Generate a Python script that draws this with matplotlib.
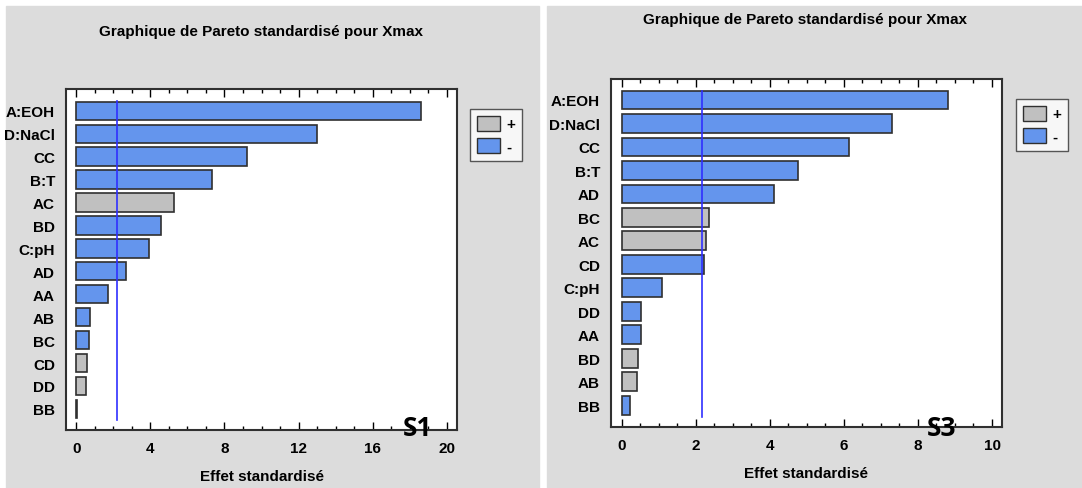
import matplotlib
matplotlib.use("Agg")
import matplotlib.pyplot as plt
from matplotlib.patches import Rectangle, Patch
from matplotlib.ticker import MultipleLocator

plt.rcParams['font.family'] = ['Liberation Sans Narrow', 'Liberation Sans', 'DejaVu Sans']
plt.rcParams['font.weight'] = 'bold'

# S1
labels1 = ['A:EOH', 'D:NaCl', 'CC', 'B:T', 'AC', 'BD', 'C:pH', 'AD', 'AA', 'AB', 'BC', 'CD', 'DD', 'BB']
vals1 = [18.6, 12.98, 9.23, 7.31, 5.28, 4.57, 3.94, 2.70, 1.69, 0.76, 0.69, 0.58, 0.52, 0.06]
signs1 = ['-', '-', '-', '-', '+', '-', '-', '-', '-', '-', '-', '+', '+', '-']

# S3
labels3 = ['A:EOH', 'D:NaCl', 'CC', 'B:T', 'AD', 'BC', 'AC', 'CD', 'C:pH', 'DD', 'AA', 'BD', 'AB', 'BB']
vals3 = [8.80, 7.30, 6.15, 4.77, 4.10, 2.37, 2.27, 2.22, 1.08, 0.52, 0.52, 0.44, 0.40, 0.21]
signs3 = ['-', '-', '-', '-', '-', '+', '+', '-', '-', '-', '-', '+', '+', '-']

t_crit = 2.18
title = 'Graphique de Pareto standardisé pour Xmax'
xlab = 'Effet standardisé'
col = {'+': '#c0c0c0', '-': '#6495ed'}

W, H = 1082, 489
fig = plt.figure(figsize=(W / 100, H / 100), dpi=100, facecolor='white')

def box(x0, y0, x1, y1):
    # pixel box (top-left origin) -> figure fraction
    return [x0 / W, 1 - y1 / H, (x1 - x0) / W, (y1 - y0) / H]

# gray panels
for x0, x1 in [(6, 539), (547, 1082)]:
    fig.patches.append(Rectangle((x0 / W, 0), (x1 - x0) / W, 1 - 7 / H,
                                 transform=fig.transFigure, color='#dcdcdc', zorder=-1))

def panel(rect, labels, vals, signs, xlim, major, minor, ylim, tit_xy, leg_xy, tag, tag_xy):
    ax = fig.add_axes(box(*rect), zorder=1)
    ax.set_facecolor('white')
    y = list(range(len(labels)))
    ax.barh(y, vals, height=0.8, color=[col[s] for s in signs],
            edgecolor='#303030', linewidth=1.2, zorder=2)
    ax.axvline(t_crit, color='#3030ff', linewidth=1.2, zorder=3,
               ymin=0.03, ymax=0.965)
    ax.set_xlim(*xlim)
    ax.set_ylim(*ylim)
    ax.set_yticks(y)
    ax.set_yticklabels(labels, fontsize=11, fontweight='bold')
    ax.tick_params(axis='y', length=0, pad=8)
    ax.xaxis.set_major_locator(MultipleLocator(major))
    ax.xaxis.set_minor_locator(MultipleLocator(minor))
    ax.tick_params(axis='x', which='both', direction='in', top=True, labelsize=11, pad=8)
    ax.tick_params(axis='x', which='major', length=6, width=1)
    ax.tick_params(axis='x', which='minor', length=3, width=1)
    for lab in ax.get_xticklabels():
        lab.set_fontweight('bold')
    for sp in ax.spines.values():
        sp.set_color('#303030')
        sp.set_linewidth(1.5)
    ax.set_xlabel(xlab, fontsize=11, fontweight='bold', labelpad=10)
    fig.text(tit_xy[0] / W, 1 - tit_xy[1] / H, title, ha='center', va='center',
             fontsize=11, fontweight='bold')
    handles = [Patch(facecolor=col['+'], edgecolor='#303030', label='+'),
               Patch(facecolor=col['-'], edgecolor='#303030', label='-')]
    leg = fig.legend(handles=handles, loc='upper left',
                     bbox_to_anchor=(leg_xy[0] / W, 1 - leg_xy[1] / H),
                     frameon=True, fancybox=False, edgecolor='#303030',
                     fontsize=11, handlelength=1.5, handleheight=1.1,
                     handletextpad=0.4, borderpad=0.45, labelspacing=0.45,
                     borderaxespad=0.2)
    leg.set_zorder(4)
    fig.text(tag_xy[0] / W, 1 - tag_xy[1] / H, tag, ha='center', va='center',
             fontsize=19, fontweight='bold', family=['Open Sans', 'DejaVu Sans'],
             zorder=5)
    return ax

panel((66, 90, 457, 431), labels1, vals1, signs1, (-0.56, 20.56), 4, 1,
      (13.92, -0.95), (261, 32), (467, 107), 'S1', (417, 429))
panel((611, 80, 1002, 428), labels3, vals3, signs3, (-0.29, 10.27), 2, 0.5,
      (13.92, -0.89), (805, 20), (1013, 97), 'S3', (942, 429))

fig.savefig('out.png', dpi=100, facecolor=fig.get_facecolor())
